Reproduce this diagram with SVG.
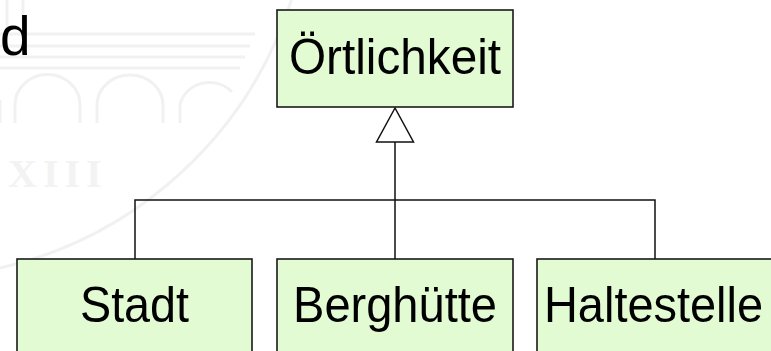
<svg xmlns="http://www.w3.org/2000/svg" width="771" height="351" viewBox="0 0 771 351">
<style>
.box{fill:#e2fbd2;stroke:#1a1a1a;stroke-width:1.6}
.lbl{font-family:"Liberation Sans",Arial,sans-serif;font-size:50px;fill:#000;text-anchor:middle}
.conn{fill:none;stroke:#111;stroke-width:1.5}
.wm{fill:none;stroke:#f1f1f1;stroke-width:3}
</style>
<rect width="771" height="351" fill="#fff"/>
<g id="watermark">
<path class="wm" d="M0 34H255M0 46H250M0 57H245M0 68H240"/>
<path class="wm" d="M7 0V28M23 0V28"/>
<path class="wm" d="M0 123V100M15 123V105A32 30 0 0 1 80 105V123M97 123V105A33 30 0 0 1 163 105V123M180 123V105A30 28 0 0 1 232 92"/>
<path class="wm" d="M292 -2A400 400 0 0 1 0 268"/>
<text x="8" y="187" font-family="Liberation Serif,serif" font-size="40" font-weight="bold" fill="#f3f3f3" letter-spacing="6">XIII</text>
</g>
<text x="0" y="55" font-family="Liberation Sans,Arial,sans-serif" font-size="55" fill="#000">d</text>
<g id="connectors">
<path class="conn" d="M395 142V259M135 259V200H655V259"/>
<polygon class="conn" points="395,108 376.5,142 413.5,142" fill="#fff"/>
</g>
<g id="oertlichkeit">
<rect class="box" x="277" y="10" width="236" height="97"/>
<text class="lbl" x="395" y="74" textLength="212" lengthAdjust="spacingAndGlyphs">Örtlichkeit</text>
</g>
<g id="stadt">
<rect class="box" x="17" y="259" width="235" height="100"/>
<text class="lbl" x="134.5" y="322" textLength="109" lengthAdjust="spacingAndGlyphs">Stadt</text>
</g>
<g id="berghuette">
<rect class="box" x="277" y="259" width="236" height="100"/>
<text class="lbl" x="395" y="322" textLength="204" lengthAdjust="spacingAndGlyphs">Berghütte</text>
</g>
<g id="haltestelle">
<rect class="box" x="537" y="259" width="236" height="100"/>
<text class="lbl" x="653.5" y="322" textLength="219" lengthAdjust="spacingAndGlyphs">Haltestelle</text>
</g>
</svg>
